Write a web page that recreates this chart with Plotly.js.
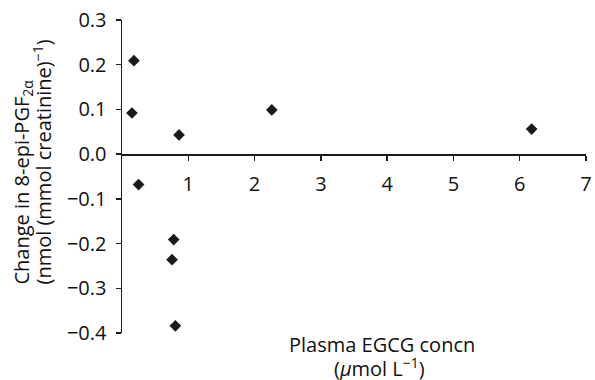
<!DOCTYPE html>
<html>
<head>
<meta charset="utf-8">
<script src="https://cdn.plot.ly/plotly-3.0.1.min.js"></script>
<style>html,body{margin:0;padding:0;background:#fff}#chart{width:595px;height:380px}</style>
</head>
<body>
<div id="chart"></div>
<script>
var plasmaEGCG = [0.18, 0.15, 0.86, 2.26, 0.25, 0.78, 0.755, 0.805, 6.18];
var changePGF = [0.209, 0.092, 0.043, 0.099, -0.068, -0.191, -0.236, -0.384, 0.056];
var xTicks = [1, 2, 3, 4, 5, 6, 7];
var yTicks = [-0.4, -0.3, -0.2, -0.1, 0.0, 0.1, 0.2, 0.3];
var xRange = [0, 7];
var yRange = [-0.4, 0.3];

var font = {family: "Open Sans, Noto Sans, sans-serif", size: 20, color: "#111111"};

var trace = {
  x: plasmaEGCG, y: changePGF, type: "scatter", mode: "markers",
  marker: {symbol: "diamond", size: 9, color: "#1a1a1a"},
  cliponaxis: false, showlegend: false
};

function ann(text, x, y, xa, ya, angle) {
  return {text: text, xref: "paper", yref: "paper", x: x, y: y, xanchor: xa, yanchor: ya,
          textangle: angle, showarrow: false, font: font};
}

var layout = {
  width: 595, height: 380,
  margin: {l: 122, r: 9, t: 20, b: 47},
  paper_bgcolor: "#fff", plot_bgcolor: "#fff",
  font: font,
  xaxis: {
    range: xRange, tickvals: xTicks, ticktext: xTicks.map(String),
    showgrid: false, zeroline: false, showline: true, linecolor: "#1a1a1a", linewidth: 1.5,
    ticks: "outside", ticklen: 5, tickwidth: 1.3, tickcolor: "#1a1a1a",
    anchor: "free", position: (0 - yRange[0]) / (yRange[1] - yRange[0]),
    ticklabelstandoff: 6, tickfont: font, fixedrange: true
  },
  yaxis: {
    range: yRange, tickvals: yTicks, tickformat: ".1f",
    showgrid: false, zeroline: false, showline: true, linecolor: "#1a1a1a", linewidth: 1.5,
    ticks: "outside", ticklen: 5, tickwidth: 1.3, tickcolor: "#1a1a1a",
    ticklabelstandoff: 5, tickfont: font, fixedrange: true
  },
  annotations: [
    ann("Change in 8-epi-PGF<sub>2α</sub>", -0.2155, 0.147, "center", "bottom", -90),
    ann("(nmol (mmol creatinine)<sup>−1</sup>)", -0.1724, 0.147, "center", "bottom", -90),
    ann("Plasma EGCG concn", 0.56, -0.036, "center", "middle", 0),
    ann("(<i>μ</i>mol L<sup>−1</sup>)", 0.556, -0.11, "center", "middle", 0)
  ]
};

Plotly.newPlot("chart", [trace], layout, {displayModeBar: false, staticPlot: true});
</script>
</body>
</html>
